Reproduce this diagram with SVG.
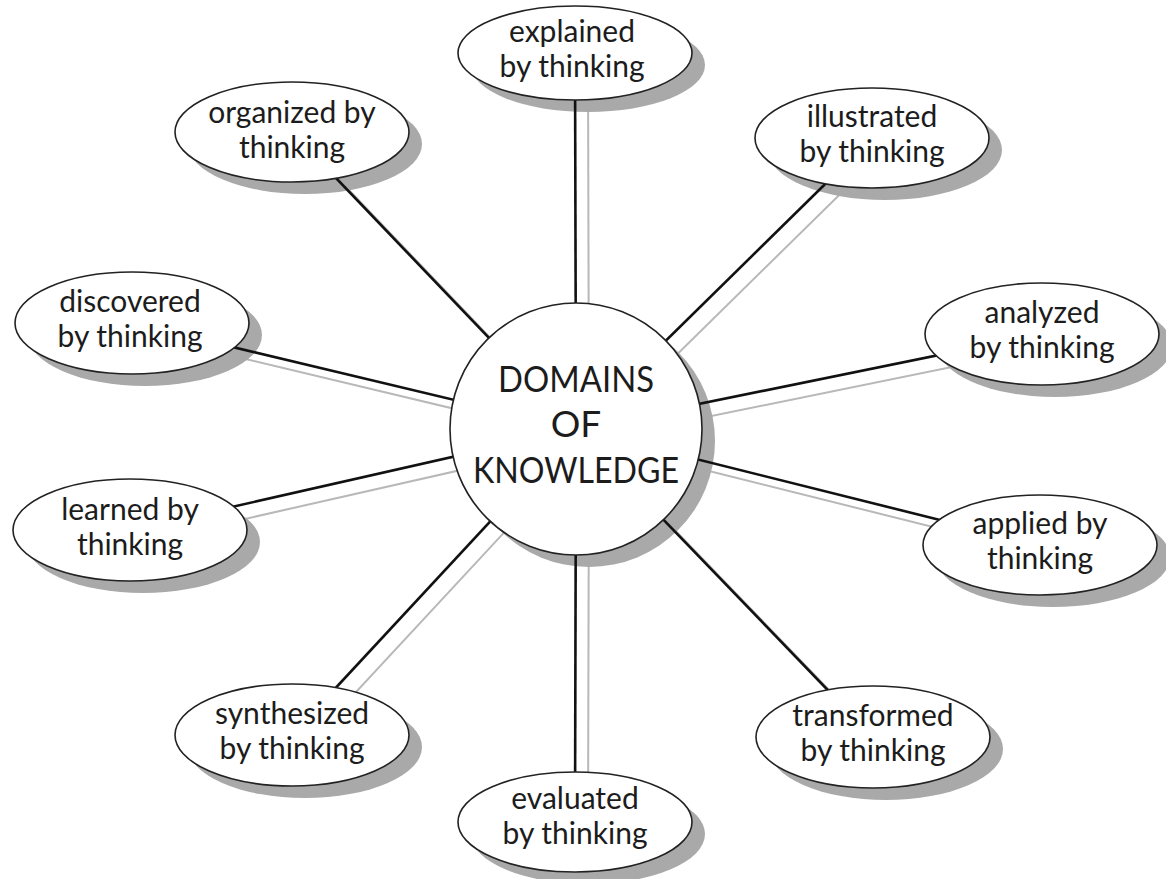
<svg xmlns="http://www.w3.org/2000/svg" width="1166" height="879" viewBox="0 0 1166 879">
<style>
.sh{fill:#a9a9a9;stroke:none}
.shl{stroke:#b8b8b8;stroke-width:2;fill:none}
.ln{stroke:#111;stroke-width:2.6;fill:none}
.nd{fill:#fff;stroke:#222;stroke-width:1.6}
.t{font-family:Lato,"Open Sans",sans-serif;font-size:30px;fill:#1c1c1c;text-anchor:middle}
.c{font-family:Lato,"Open Sans",sans-serif;font-size:37px;fill:#1c1c1c;text-anchor:middle}
</style>
<rect width="1166" height="879" fill="#fff"/>
<g id="connector-shadows" transform="translate(13,12)">
<line class="shl" x1="576" y1="429" x2="575" y2="53"/>
<line class="shl" x1="576" y1="429" x2="292" y2="132"/>
<line class="shl" x1="576" y1="429" x2="872" y2="138"/>
<line class="shl" x1="576" y1="429" x2="132" y2="323"/>
<line class="shl" x1="576" y1="429" x2="1042" y2="334"/>
<line class="shl" x1="576" y1="429" x2="130" y2="530"/>
<line class="shl" x1="576" y1="429" x2="1040" y2="545"/>
<line class="shl" x1="576" y1="429" x2="292" y2="735"/>
<line class="shl" x1="576" y1="429" x2="873" y2="737"/>
<line class="shl" x1="576" y1="429" x2="575" y2="822"/>
</g>
<g id="node-shadows" transform="translate(13,12)">
<circle class="sh" cx="576" cy="429" r="126"/>
<ellipse class="sh" cx="575" cy="53" rx="117" ry="47"/>
<ellipse class="sh" cx="292" cy="132" rx="117" ry="50"/>
<ellipse class="sh" cx="872" cy="138" rx="117" ry="50"/>
<ellipse class="sh" cx="132" cy="323" rx="117" ry="51"/>
<ellipse class="sh" cx="1042" cy="334" rx="117" ry="51"/>
<ellipse class="sh" cx="130" cy="530" rx="117" ry="51"/>
<ellipse class="sh" cx="1040" cy="545" rx="117" ry="50"/>
<ellipse class="sh" cx="292" cy="735" rx="117" ry="51"/>
<ellipse class="sh" cx="873" cy="737" rx="117" ry="51"/>
<ellipse class="sh" cx="575" cy="822" rx="117" ry="50"/>
</g>
<g id="connectors">
<line class="ln" x1="576" y1="429" x2="575" y2="53"/>
<line class="ln" x1="576" y1="429" x2="292" y2="132"/>
<line class="ln" x1="576" y1="429" x2="872" y2="138"/>
<line class="ln" x1="576" y1="429" x2="132" y2="323"/>
<line class="ln" x1="576" y1="429" x2="1042" y2="334"/>
<line class="ln" x1="576" y1="429" x2="130" y2="530"/>
<line class="ln" x1="576" y1="429" x2="1040" y2="545"/>
<line class="ln" x1="576" y1="429" x2="292" y2="735"/>
<line class="ln" x1="576" y1="429" x2="873" y2="737"/>
<line class="ln" x1="576" y1="429" x2="575" y2="822"/>
</g>
<g id="center">
<circle class="nd" cx="576" cy="429" r="126"/>
<text class="c" x="576" y="392" textLength="156" lengthAdjust="spacingAndGlyphs">DOMAINS</text>
<text class="c" x="576" y="437">OF</text>
<text class="c" x="576" y="483" textLength="206" lengthAdjust="spacingAndGlyphs">KNOWLEDGE</text>
</g>
<g id="explained">
<ellipse class="nd" cx="575" cy="53" rx="117" ry="47"/>
<text class="t" x="572" y="42">explained</text>
<text class="t" x="572" y="77">by thinking</text>
</g>
<g id="organized">
<ellipse class="nd" cx="292" cy="132" rx="117" ry="50"/>
<text class="t" x="292" y="123">organized by</text>
<text class="t" x="292" y="158">thinking</text>
</g>
<g id="illustrated">
<ellipse class="nd" cx="872" cy="138" rx="117" ry="50"/>
<text class="t" x="872" y="127">illustrated</text>
<text class="t" x="872" y="162">by thinking</text>
</g>
<g id="discovered">
<ellipse class="nd" cx="132" cy="323" rx="117" ry="51"/>
<text class="t" x="130" y="312">discovered</text>
<text class="t" x="130" y="347">by thinking</text>
</g>
<g id="analyzed">
<ellipse class="nd" cx="1042" cy="334" rx="117" ry="51"/>
<text class="t" x="1042" y="323">analyzed</text>
<text class="t" x="1042" y="358">by thinking</text>
</g>
<g id="learned">
<ellipse class="nd" cx="130" cy="530" rx="117" ry="51"/>
<text class="t" x="130" y="520">learned by</text>
<text class="t" x="130" y="555">thinking</text>
</g>
<g id="applied">
<ellipse class="nd" cx="1040" cy="545" rx="117" ry="50"/>
<text class="t" x="1040" y="534">applied by</text>
<text class="t" x="1040" y="569">thinking</text>
</g>
<g id="synthesized">
<ellipse class="nd" cx="292" cy="735" rx="117" ry="51"/>
<text class="t" x="292" y="724">synthesized</text>
<text class="t" x="292" y="759">by thinking</text>
</g>
<g id="transformed">
<ellipse class="nd" cx="873" cy="737" rx="117" ry="51"/>
<text class="t" x="873" y="726">transformed</text>
<text class="t" x="873" y="761">by thinking</text>
</g>
<g id="evaluated">
<ellipse class="nd" cx="575" cy="822" rx="117" ry="50"/>
<text class="t" x="575" y="809">evaluated</text>
<text class="t" x="575" y="844">by thinking</text>
</g>
</svg>
